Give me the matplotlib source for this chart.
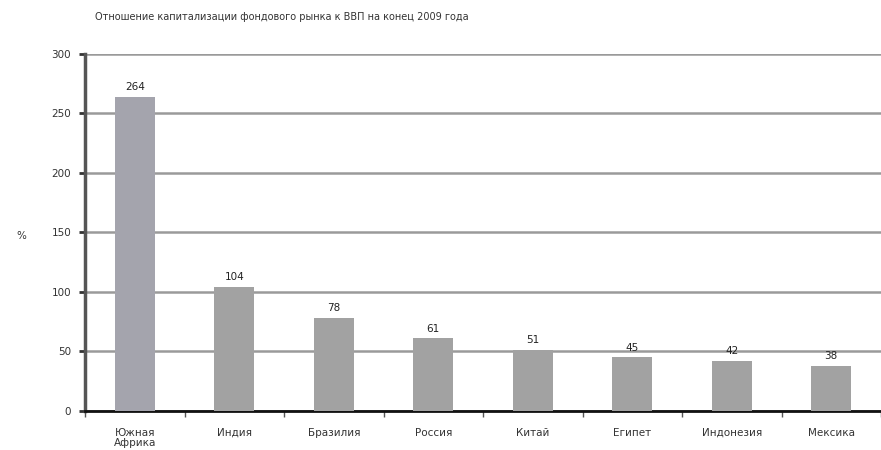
import matplotlib
matplotlib.use("Agg")
import matplotlib.pyplot as plt
import numpy as np

title = "Отношение капитализации фондового рынка к ВВП на конец 2009 года"
countries = ["Южная\nАфрика", "Индия", "Бразилия", "Россия", "Китай", "Египет", "Индонезия", "Мексика"]
values = [264, 104, 78, 61, 51, 45, 42, 38]
yticks = [0, 50, 100, 150, 200, 250, 300]

plt.rcParams["font.family"] = ["DejaVu Sans"]

fig = plt.figure(figsize=(8.81, 4.5), dpi=100)
ax = fig.add_axes([0.0965, 0.087, 0.9035, 0.793])

x = np.arange(len(countries))
colors = ["#a4a4ad"] + ["#a2a2a2"] * (len(countries) - 1)
ax.bar(x, values, width=0.4, color=colors, zorder=3)

for xi, v in zip(x, values):
    ax.text(xi, v + 4, str(v), ha="center", va="bottom", fontsize=7.5, color="#222222")

ax.set_xlim(-0.5, len(countries) - 0.5)
ax.set_ylim(0, 300)
ax.set_yticks(yticks)
ax.set_yticklabels([str(t) for t in yticks], fontsize=7.5, color="#333333")
ax.yaxis.grid(True, color="#9a9a9a", linewidth=1.8, zorder=0)
ax.tick_params(axis="y", length=4, width=2, color="#333333", pad=6)

ax.set_xticks(x)
ax.set_xticklabels(countries, fontsize=7.5, color="#333333", linespacing=1.1)
ax.tick_params(axis="x", length=0, pad=12)
ax.set_xticks(np.arange(len(countries) + 1) - 0.5, minor=True)
ax.tick_params(axis="x", which="minor", length=4, width=1, color="#555555")

for side in ["top", "right"]:
    ax.spines[side].set_visible(False)
ax.spines["left"].set_color("#555555")
ax.spines["left"].set_linewidth(2.5)
ax.spines["bottom"].set_color("#111111")
ax.spines["bottom"].set_linewidth(2)

fig.text(0.024, 0.475, "%", fontsize=7.5, color="#333333", ha="center", va="center")
fig.text(0.108, 0.962, title, fontsize=7, color="#333333", ha="left", va="center")

fig.savefig("out.png", dpi=100)
